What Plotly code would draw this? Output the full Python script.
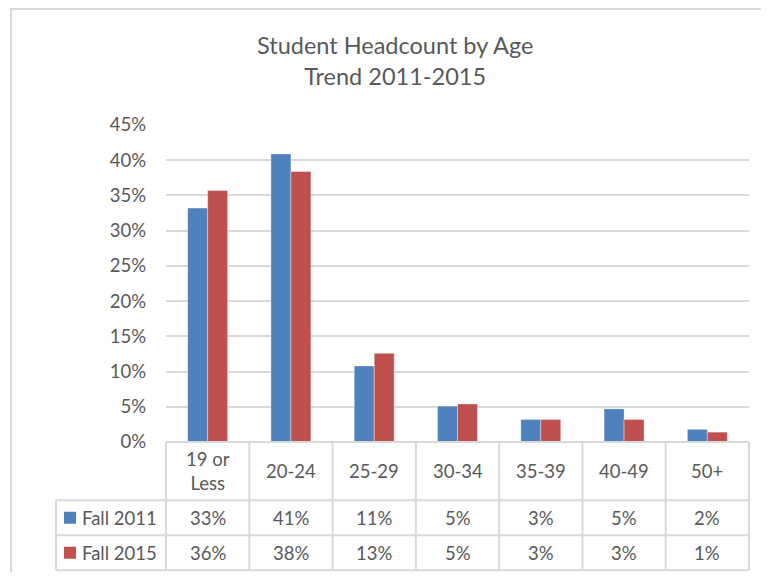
import plotly.graph_objects as go

categories = ["19 or Less", "20-24", "25-29", "30-34", "35-39", "40-49", "50+"]
header_labels = ["19 or<br>Less", "20-24", "25-29", "30-34", "35-39", "40-49", "50+"]
fall_2011 = [0.332, 0.409, 0.108, 0.051, 0.032, 0.047, 0.018]
fall_2015 = [0.357, 0.384, 0.126, 0.054, 0.032, 0.032, 0.014]
series_names = ["Fall 2011", "Fall 2015"]
series_colors = ["#4F81BD", "#C0504D"]

OFF = 8  # page body margin
W, H = 769 - OFF - 4, 578 - OFF - 6
L, R, T, B = 166, 749, 124.5, 441.7  # plot area in page pixels
PW, PH = R - L, B - T
FONT = "Lato"
TXT = "#595959"
LINE = "#D9D9D9"
FS = 18.5


def px(x):
    return (x - L) / PW


def py(y):
    return (B - y) / PH


fig = go.Figure()
for name, vals, col in zip(series_names, [fall_2011, fall_2015], series_colors):
    fig.add_trace(go.Bar(x=categories, y=vals, name=name, marker_color=col,
                         marker_line=dict(color="rgba(255,255,255,0.5)", width=0.75),
                         showlegend=False))

shapes = []
shapes.append(dict(type="line", xref="paper", yref="paper", x0=px(10), x1=px(769),
                   y0=py(8.5), y1=py(8.5), line=dict(color=LINE, width=2)))
shapes.append(dict(type="line", xref="paper", yref="paper", x0=px(11), x1=px(11),
                   y0=py(8), y1=py(578), line=dict(color=LINE, width=2)))
row_tops = [441.7, 500, 535, 570]
shapes.append(dict(type="line", xref="paper", yref="paper", x0=px(166), x1=px(749),
                   y0=py(441.7), y1=py(441.7), line=dict(color=LINE, width=2)))
for yy in row_tops[1:]:
    shapes.append(dict(type="line", xref="paper", yref="paper", x0=px(56), x1=px(749),
                       y0=py(yy), y1=py(yy), line=dict(color=LINE, width=2)))
for i in range(len(categories) + 1):
    xx = L + PW * i / len(categories)
    shapes.append(dict(type="line", xref="paper", yref="paper", x0=px(xx), x1=px(xx),
                       y0=py(441.7), y1=py(570), line=dict(color=LINE, width=2)))
shapes.append(dict(type="line", xref="paper", yref="paper", x0=px(56), x1=px(56),
                   y0=py(500), y1=py(570), line=dict(color=LINE, width=2)))

annotations = []
row_centers = [517.5, 552.5]
for r, (name, vals, col) in enumerate(zip(series_names, [fall_2011, fall_2015], series_colors)):
    yc = row_centers[r]
    shapes.append(dict(type="rect", xref="paper", yref="paper", x0=px(64), x1=px(76),
                       y0=py(yc + 6), y1=py(yc - 6), fillcolor=col, line=dict(width=0)))
    annotations.append(dict(text=name, xref="paper", yref="paper", x=px(80), y=py(yc),
                            xanchor="left", yanchor="middle", showarrow=False,
                            font=dict(size=FS, color=TXT, family=FONT)))
    for c, v in zip(categories, vals):
        annotations.append(dict(text=f"{round(v * 100):.0f}%", xref="x", yref="paper", x=c,
                                y=py(yc), xanchor="center", yanchor="middle", showarrow=False,
                                font=dict(size=FS, color=TXT, family=FONT)))
for c, lab in zip(categories, header_labels):
    annotations.append(dict(text=lab, xref="x", yref="paper", x=c, y=py(471),
                            xanchor="center", yanchor="middle", showarrow=False,
                            font=dict(size=FS, color=TXT, family=FONT)))
annotations.append(dict(text="Student Headcount by Age<br>Trend 2011-2015", xref="paper",
                        yref="paper", x=px(395), y=py(60), xanchor="center", yanchor="middle",
                        showarrow=False, font=dict(size=23.5, color=TXT, family=FONT)))

fig.update_layout(
    width=W, height=H,
    margin=dict(l=L - OFF, r=W - (R - OFF), t=T - OFF, b=H - (B - OFF), pad=0),
    paper_bgcolor="white", plot_bgcolor="white",
    barmode="group", bargap=0.52, bargroupgap=0,
    xaxis=dict(showticklabels=False, showgrid=False, zeroline=False, showline=False,
               categoryorder="array", categoryarray=categories),
    yaxis=dict(range=[0, 0.45], dtick=0.05, tickformat=".0%", showgrid=True,
               gridcolor=LINE, gridwidth=2, zeroline=False, showline=False,
               ticklabelstandoff=19,
               tickfont=dict(size=FS, color=TXT, family=FONT)),
    shapes=shapes, annotations=annotations,
    font=dict(family=FONT, color=TXT),
)

fig.write_html("out.html", config={"displayModeBar": False},
               post_script="document.documentElement.style.overflow='hidden';document.body.style.overflow='hidden';")
